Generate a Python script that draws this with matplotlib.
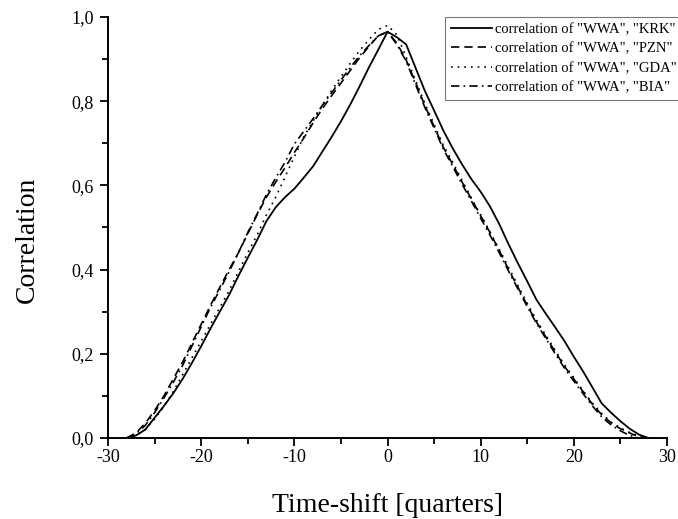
import matplotlib
matplotlib.use("Agg")
import matplotlib.pyplot as plt
from matplotlib.ticker import MultipleLocator, FuncFormatter

shift = list(range(-28, 29))

krk = [0.000, 0.006, 0.020, 0.048, 0.076, 0.106, 0.140, 0.178, 0.218, 0.260,
       0.300, 0.340, 0.385, 0.428, 0.470, 0.515, 0.548, 0.572, 0.592, 0.618,
       0.645, 0.680, 0.715, 0.752, 0.792, 0.835, 0.880, 0.922, 0.965,
       0.952, 0.935, 0.880, 0.825, 0.778, 0.730, 0.688, 0.650, 0.615, 0.585,
       0.550, 0.508, 0.460, 0.415, 0.372, 0.328, 0.295, 0.263, 0.230, 0.193,
       0.158, 0.120, 0.082, 0.060, 0.040, 0.022, 0.008, 0.000]

pzn = [0.000, 0.012, 0.035, 0.065, 0.100, 0.140, 0.180, 0.225, 0.270, 0.315,
       0.358, 0.400, 0.440, 0.485, 0.530, 0.572, 0.608, 0.642, 0.678, 0.712,
       0.748, 0.782, 0.813, 0.843, 0.873, 0.903, 0.930, 0.955, 0.965,
       0.938, 0.898, 0.845, 0.790, 0.740, 0.690, 0.650, 0.608, 0.568, 0.528,
       0.488, 0.445, 0.400, 0.358, 0.315, 0.275, 0.240, 0.205, 0.170, 0.140,
       0.110, 0.080, 0.055, 0.036, 0.022, 0.012, 0.002, 0.000]

gda = [0.000, 0.005, 0.020, 0.045, 0.075, 0.110, 0.150, 0.190, 0.230, 0.270,
       0.310, 0.350, 0.395, 0.440, 0.482, 0.530, 0.572, 0.620, 0.668, 0.715,
       0.752, 0.790, 0.825, 0.858, 0.890, 0.920, 0.946, 0.970, 0.980,
       0.958, 0.905, 0.850, 0.795, 0.745, 0.695, 0.655, 0.612, 0.570, 0.530,
       0.490, 0.448, 0.405, 0.362, 0.320, 0.280, 0.244, 0.208, 0.174, 0.143,
       0.112, 0.083, 0.058, 0.038, 0.024, 0.013, 0.004, 0.000]

bia = [0.000, 0.010, 0.030, 0.060, 0.095, 0.132, 0.172, 0.218, 0.264, 0.310,
       0.352, 0.395, 0.440, 0.488, 0.532, 0.578, 0.618, 0.655, 0.698, 0.728,
       0.758, 0.790, 0.820, 0.850, 0.880, 0.908, 0.932, 0.955, 0.965,
       0.935, 0.895, 0.840, 0.786, 0.736, 0.686, 0.645, 0.603, 0.563, 0.522,
       0.482, 0.440, 0.396, 0.354, 0.312, 0.272, 0.236, 0.200, 0.166, 0.135,
       0.105, 0.076, 0.050, 0.031, 0.017, 0.006, 0.000, 0.000]

labels = ['correlation of "WWA", "KRK"', 'correlation of "WWA", "PZN"',
          'correlation of "WWA", "GDA"', 'correlation of "WWA", "BIA"']

plt.rcParams['font.family'] = ['Liberation Serif', 'DejaVu Serif']

fig = plt.figure(figsize=(6.78, 5.19), dpi=100)
ax = fig.add_axes([108/678, 1 - 438/519, (667-108)/678, (438-17)/519])

ax.plot(shift, krk, color='black', lw=1.3, ls='-', label=labels[0])
ax.plot(shift, pzn, color='black', lw=1.2, ls=(0, (5, 3)), label=labels[1])
ax.plot(shift, gda, color='black', lw=1.2, ls=(0, (1, 3)), label=labels[2])
ax.plot(shift, bia, color='black', lw=1.2, ls=(0, (5, 2.5, 1, 2.5)), label=labels[3])

ax.set_xlim(-30, 30)
ax.set_ylim(0, 1.0)
ax.xaxis.set_major_locator(MultipleLocator(10))
ax.xaxis.set_minor_locator(MultipleLocator(5))
ax.yaxis.set_major_locator(MultipleLocator(0.2))
ax.yaxis.set_minor_locator(MultipleLocator(0.1))
ax.yaxis.set_major_formatter(FuncFormatter(lambda v, p: f"{v:.1f}".replace('.', ',')))
ax.xaxis.set_major_formatter(FuncFormatter(lambda v, p: f"{v:.0f}"))
ax.tick_params(which='major', direction='out', length=6, width=1.3, labelsize=13, color='black')
ax.tick_params(axis='x', which='major', pad=2)
ax.tick_params(axis='y', which='major', pad=4)
ax.tick_params(which='minor', direction='out', length=4, width=1.3)
for s in ['top', 'right']:
    ax.spines[s].set_visible(False)
for s in ['left', 'bottom']:
    ax.spines[s].set_linewidth(1.4)

fig.text(388/678, 1 - 505/519, 'Time-shift [quarters]', fontsize=20,
         ha='center', va='center')
fig.text(27/678, 1 - 240/519, 'Correlation', fontsize=20, rotation=90,
         ha='center', va='center')

leg = fig.legend(loc='upper left', bbox_to_anchor=(445/678, 1 - 17/519),
                 fontsize=10.5, frameon=True, fancybox=False, handlelength=2.8,
                 borderpad=0.4, labelspacing=0.42, handletextpad=0.25,
                 borderaxespad=0)
leg.get_frame().set_edgecolor('#555555')
leg.get_frame().set_linewidth(0.8)

fig.savefig('out.png', dpi=100)
